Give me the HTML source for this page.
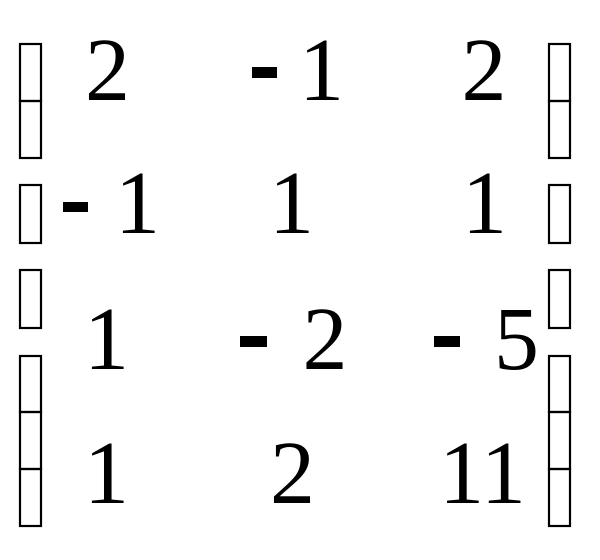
<!DOCTYPE html>
<html><head><meta charset="utf-8"><style>html,body{margin:0;padding:0;background:#fff;width:600px;height:560px;overflow:hidden}</style></head>
<body>
<svg width="600" height="560" xmlns="http://www.w3.org/2000/svg">
<g fill="none" stroke="#000" stroke-width="2.2">
<rect x="20" y="44" width="21" height="57"/><rect x="20" y="101" width="21" height="57"/>
<rect x="20" y="185" width="21" height="58"/>
<rect x="20" y="270" width="21" height="58"/>
<rect x="20" y="356" width="21" height="56"/><rect x="20" y="412" width="21" height="57"/><rect x="20" y="469" width="21" height="57"/>
<rect x="549" y="44" width="21" height="57"/><rect x="549" y="101" width="21" height="57"/>
<rect x="549" y="185" width="21" height="58"/>
<rect x="549" y="270" width="21" height="58"/>
<rect x="549" y="356" width="21" height="56"/><rect x="549" y="412" width="21" height="57"/><rect x="549" y="469" width="21" height="57"/>
</g>
<g fill="#000">
<rect x="252" y="67" width="25" height="11"/>
<rect x="63" y="202" width="25" height="10"/>
<rect x="240" y="336" width="27" height="11"/>
<rect x="434" y="336" width="26" height="11"/>
</g>
<g font-family="Liberation Serif, serif" font-size="90" text-anchor="middle" fill="#000">
<text x="107.5" y="100">2</text><text x="321.5" y="100">1</text><text x="484" y="100">2</text>
<text x="137.5" y="233">1</text><text x="291.5" y="233">1</text><text x="484.5" y="233">1</text>
<text x="106.5" y="369">1</text><text x="325" y="369">2</text><text x="516.5" y="369">5</text>
<text x="106.5" y="503">1</text><text x="292.5" y="503">2</text><text x="482.5" y="503">11</text>
</g>
</svg>
</body></html>
